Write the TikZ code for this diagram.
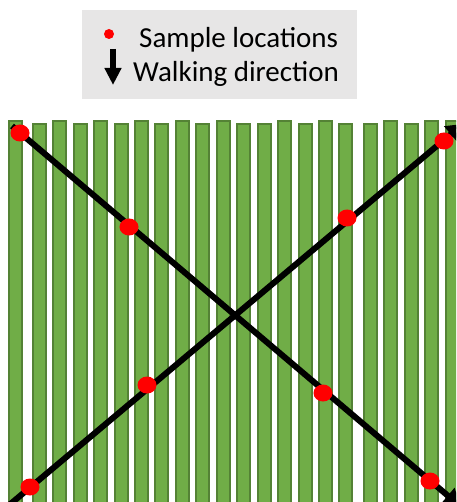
\documentclass[tikz,border=0pt]{standalone}
\usepackage{fontspec}
\setmainfont{Carlito}
\usetikzlibrary{arrows.meta,shapes.geometric}
\definecolor{barfill}{HTML}{70AD47}
\definecolor{barline}{HTML}{548235}
\definecolor{legendbg}{HTML}{E7E6E6}
\definecolor{dotred}{HTML}{FF0000}
\tikzset{
  bar/.style={fill=barfill,draw=barline,line width=2pt},
  walk/.style={line width=6pt,black,-{Triangle[width=20pt,length=16pt]}},
  sample/.style={ellipse,fill=dotred,inner sep=0pt,minimum width=19pt,minimum height=17pt},
  legtext/.style={anchor=base west,inner sep=0pt,font=\fontsize{29}{34}\selectfont},
}
\begin{document}
\begin{tikzpicture}[x=1pt,y=-1pt]
\useasboundingbox (0,0) rectangle (456,502);
\fill[white] (0,0) rectangle (456,502);
\begin{scope}
\clip (0,0) rectangle (456,502);
% legend
\fill[legendbg] (82,10) rectangle (357,99);
\node[circle,fill=dotred,inner sep=0pt,minimum size=10pt] (legdot) at (109,34) {};
\coordinate (legA) at (113,49);
\coordinate (legB) at (113,85);
\draw[line width=5.5pt,-{Triangle[width=16pt,length=17pt]}] (legA) -- (legB);
\node[legtext] (t1) at (139,48) {Sample locations};
\node[legtext] (t2) at (133,82) {Walking direction};
% bars
\foreach \x/\t in {9/121,33/124,53/121,74/124,94/121,115/124,135/121,155/124,176/121,196/124,217/121,237/124,258/124,278/121,299/124,319/121,339/124,364/124,384/121,405/124,425/121,446/121}{
  \draw[bar] (\x,\t) rectangle ++(13,392);
}
% walking paths
\coordinate (a1) at (12,126);
\coordinate (a2) at (460,506);
\coordinate (b1) at (8,506);
\coordinate (b2) at (463,124);
\draw[walk] (a1) -- (a2);
\draw[walk] (b1) -- (b2);
% sample dots
\node[sample] (s1) at (20,133) {};
\node[sample] (s2) at (129,227) {};
\node[sample] (s3) at (323,393) {};
\node[sample] (s4) at (430,481) {};
\node[sample] (s5) at (30,487) {};
\node[sample] (s6) at (147,385) {};
\node[sample] (s7) at (347,218) {};
\node[sample] (s8) at (444,141) {};
\end{scope}
\end{tikzpicture}
\end{document}
